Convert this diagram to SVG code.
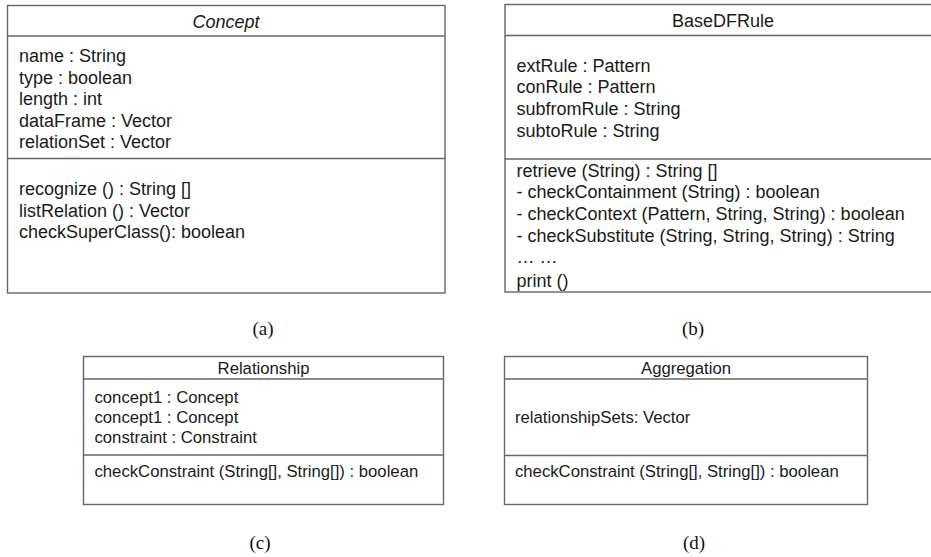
<svg xmlns="http://www.w3.org/2000/svg" width="931" height="557" viewBox="0 0 931 557">
<style>
.box{fill:#fff;stroke:#666;stroke-width:1.4}
.ln{stroke:#666;stroke-width:1.4}
.t{font-family:"Liberation Sans",Arial,sans-serif;font-size:18px;fill:#1a1a1a}
.s{font-family:"Liberation Sans",Arial,sans-serif;font-size:16.7px;fill:#1a1a1a}
.c{text-anchor:middle}
.lab{font-family:"Liberation Serif","Times New Roman",serif;font-size:19px;fill:#111;text-anchor:middle}
</style>
<rect width="931" height="557" fill="#fff"/>
<g id="concept">
<rect class="box" x="7.5" y="5.5" width="437.5" height="287.5"/>
<line class="ln" x1="7.5" y1="36" x2="445" y2="36"/>
<line class="ln" x1="7.5" y1="158.5" x2="445" y2="158.5"/>
<text class="t c" x="226" y="28" font-style="italic">Concept</text>
<text class="t" x="19" y="62">name : String</text>
<text class="t" x="19" y="83.5">type : boolean</text>
<text class="t" x="19" y="105">length : int</text>
<text class="t" x="19" y="126.5">dataFrame : Vector</text>
<text class="t" x="19" y="148">relationSet : Vector</text>
<text class="t" x="19" y="195">recognize () : String []</text>
<text class="t" x="19" y="216.5">listRelation () : Vector</text>
<text class="t" x="19" y="238">checkSuperClass(): boolean</text>
</g>
<g id="basedfrule">
<rect class="box" x="505" y="4.5" width="440" height="287.5"/>
<line class="ln" x1="505" y1="35.5" x2="931" y2="35.5"/>
<line class="ln" x1="505" y1="159" x2="931" y2="159"/>
<text class="t c" x="723" y="27">BaseDFRule</text>
<text class="t" x="516.5" y="71.5">extRule : Pattern</text>
<text class="t" x="516.5" y="93">conRule : Pattern</text>
<text class="t" x="516.5" y="115">subfromRule : String</text>
<text class="t" x="516.5" y="136.5">subtoRule : String</text>
<text class="t" x="516.5" y="176.5">retrieve (String) : String []</text>
<text class="t" x="516.5" y="198">- checkContainment (String) : boolean</text>
<text class="t" x="516.5" y="220">- checkContext (Pattern, String, String) : boolean</text>
<text class="t" x="516.5" y="241.5">- checkSubstitute (String, String, String) : String</text>
<text class="t" x="516.5" y="263">… …</text>
<text class="t" x="516.5" y="287">print ()</text>
</g>
<g id="relationship">
<rect class="box" x="83.5" y="356.5" width="360" height="148"/>
<line class="ln" x1="83.5" y1="379" x2="443.5" y2="379"/>
<line class="ln" x1="83.5" y1="455" x2="443.5" y2="455"/>
<text class="s c" x="263.5" y="374">Relationship</text>
<text class="s" x="94.5" y="403">concept1 : Concept</text>
<text class="s" x="94.5" y="423">concept1 : Concept</text>
<text class="s" x="94.5" y="442.5">constraint : Constraint</text>
<text class="s" x="94.5" y="477">checkConstraint (String[], String[]) : boolean</text>
</g>
<g id="aggregation">
<rect class="box" x="504.5" y="356.5" width="363" height="148"/>
<line class="ln" x1="504.5" y1="379" x2="867.5" y2="379"/>
<line class="ln" x1="504.5" y1="455.5" x2="867.5" y2="455.5"/>
<text class="s c" x="686" y="374">Aggregation</text>
<text class="s" x="515" y="423">relationshipSets: Vector</text>
<text class="s" x="515" y="477">checkConstraint (String[], String[]) : boolean</text>
</g>
<g id="connectors"/>
<g id="labels">
<text class="lab" x="263" y="335">(a)</text>
<text class="lab" x="693" y="335">(b)</text>
<text class="lab" x="260" y="549">(c)</text>
<text class="lab" x="694" y="549">(d)</text>
</g>
</svg>
